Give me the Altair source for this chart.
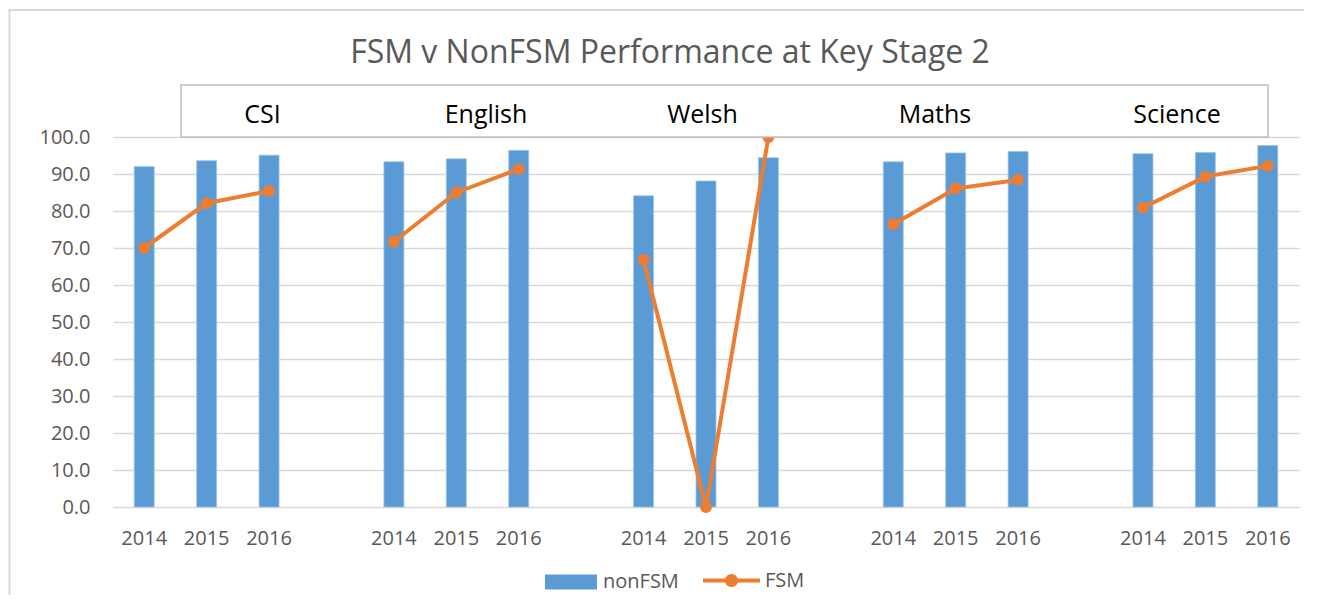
import altair as alt
import pandas as pd

subjects = ["CSI", "English", "Welsh", "Maths", "Science"]
years = ["2014", "2015", "2016"]
nonfsm = [92.0, 93.6, 95.1, 93.3, 94.1, 96.4, 84.1, 88.1, 94.4, 93.3, 95.7, 96.1, 95.5, 95.8, 97.7]
fsm = [70.0, 82.1, 85.4, 71.7, 85.0, 91.3, 66.8, 0.0, 100.0, 76.4, 86.1, 88.4, 80.9, 89.3, 92.2]
y_ticks = [0, 10, 20, 30, 40, 50, 60, 70, 80, 90, 100]
title_text = "FSM v NonFSM Performance at Key Stage 2"

# layout constants (pixels relative to the plot area)
header_px = [149.5, 373, 589.5, 822, 1064]

BLUE = "#5B9BD5"
ORANGE = "#ED7D31"
GREY_TXT = "#595959"
FONT = "Open Sans"

rows = []
for i, s in enumerate(subjects):
    for j, yr in enumerate(years):
        k = i * 3 + j
        rows.append({"key": f"{s}|{yr}", "subject": s, "year": yr,
                     "nonFSM": nonfsm[k], "FSM": fsm[k],
                     "s_bar": "nonFSM", "s_line": "FSM"})
df = pd.DataFrame(rows)

domain = []
for i, s in enumerate(subjects):
    domain += [f"{s}|{yr}" for yr in years]
    if i < len(subjects) - 1:
        domain.append(f"{s}|gap")

xscale = alt.Scale(domain=domain, paddingInner=0.68, paddingOuter=0.34)
x_enc = alt.X("key:N", scale=xscale, sort=domain,
              axis=alt.Axis(values=list(df["key"]), labelExpr="split(datum.label, '|')[1]",
                            title=None, domain=False, ticks=False, grid=False,
                            labelFont=FONT, labelFontSize=20, labelColor=GREY_TXT,
                            labelPadding=21, labelAngle=0))
yscale = alt.Scale(domain=[0, 100], nice=False)
y_axis = alt.Axis(values=y_ticks, format=".1f", title=None, domain=False, ticks=False,
                  gridColor="#D9D9D9", gridWidth=1.5, labelFont=FONT, labelFontSize=20,
                  labelColor=GREY_TXT, labelPadding=23)

base = alt.Chart(df)
one = pd.DataFrame({"a": [0]})

border_left = alt.Chart(one).mark_rule(color="#D9D9D9", strokeWidth=2).encode(
    x=alt.value(-103.5), y=alt.value(-127), y2=alt.value(700))
border_top = alt.Chart(one).mark_rule(color="#D9D9D9", strokeWidth=2).encode(
    x=alt.value(-104.5), x2=alt.value(1400), y=alt.value(-127))

bars = base.mark_bar(stroke="#9DC3E6", strokeWidth=0.8).encode(
    x=x_enc,
    y=alt.Y("nonFSM:Q", scale=yscale, axis=y_axis),
    fill=alt.Fill("s_bar:N", scale=alt.Scale(domain=["nonFSM"], range=[BLUE]),
                  legend=alt.Legend(title=None, orient="none", legendX=432, legendY=419,
                                    symbolType="M-1,-0.29H1V0.29H-1Z", symbolSize=2704,
                                    symbolStrokeWidth=0, labelFont=FONT, labelFontSize=20,
                                    labelColor=GREY_TXT, labelOffset=6)),
)

line = base.mark_line(strokeWidth=4, strokeCap="round", strokeJoin="round").encode(
    x=x_enc,
    y=alt.Y("FSM:Q", scale=yscale, axis=y_axis),
    detail="subject:N",
    stroke=alt.Stroke("s_line:N", scale=alt.Scale(domain=["FSM"], range=[ORANGE]),
                      legend=alt.Legend(title=None, orient="none", legendX=590, legendY=415,
                                        symbolType="M-1,-0.07H1V0.07H-1Z M0.23,0A0.23,0.23,0,1,1,-0.23,0A0.23,0.23,0,1,1,0.23,0Z",
                                        symbolSize=3249, symbolFillColor=ORANGE,
                                        symbolStrokeWidth=0, labelFont=FONT, labelFontSize=20,
                                        labelColor=GREY_TXT, labelOffset=5)),
)

points = base.mark_point(filled=True, size=140, color=ORANGE, opacity=1).encode(
    x=x_enc,
    y=alt.Y("FSM:Q", scale=yscale, axis=y_axis),
)

header_box = alt.Chart(one).mark_rect(
    fill="white", stroke="#BFBFBF", strokeWidth=1.5
).encode(x=alt.value(68), x2=alt.value(1155), y=alt.value(-52), y2=alt.value(0))

header_text = alt.Chart(pd.DataFrame({"label": subjects, "px": header_px})).mark_text(
    font=FONT, fontSize=25, color="black", baseline="alphabetic", align="center"
).encode(x=alt.X("px:Q", scale=None, axis=None), y=alt.value(-14), text="label:N")

chart = alt.layer(border_left, border_top, bars, line, points, header_box, header_text).properties(
    width=1186, height=370,
    padding={"left": 105, "top": 129, "right": 5, "bottom": 88},
    autosize=alt.AutoSizeParams(type="none"),
    background="white",
    title=alt.Title(title_text, font=FONT, fontSize=32, fontWeight="normal", color=GREY_TXT,
                    anchor="middle", frame="group", dx=-36, offset=-86, baseline="alphabetic"),
).configure_view(stroke=None)

chart.save("out.html", embed_options={"renderer": "svg", "actions": False})
